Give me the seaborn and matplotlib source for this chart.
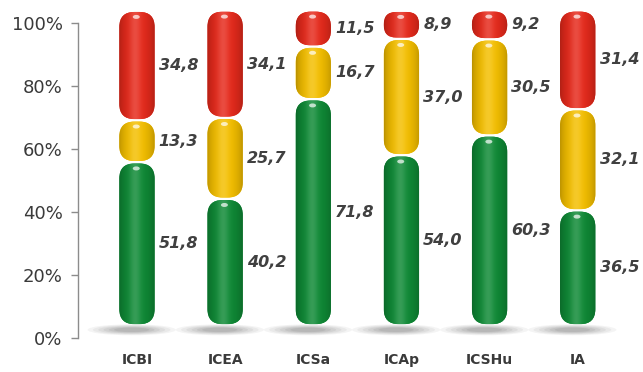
import numpy as np
import pandas as pd
import matplotlib
matplotlib.use("Agg")
import matplotlib.pyplot as plt
import seaborn as sns
from matplotlib.patches import FancyBboxPatch, Ellipse
from matplotlib.colors import to_rgb

# ---------------- data ----------------
categories = ["ICBI", "ICEA", "ICSa", "ICAp", "ICSHu", "IA"]
green_vals = [51.8, 40.2, 71.8, 54.0, 60.3, 36.5]
yellow_vals = [13.3, 25.7, 16.7, 37.0, 30.5, 32.1]
red_vals = [34.8, 34.1, 11.5, 8.9, 9.2, 31.4]
level_names = ["green", "yellow", "red"]
yticks = [0, 20, 40, 60, 80, 100]
ytick_labels = ["0%", "20%", "40%", "60%", "80%", "100%"]

# ---------------- style ----------------
level_colors = {"green": "#0f8a36", "yellow": "#f4bf00", "red": "#e62a1c"}
depth = 4.0          # 3D perspective lift of the cylinders (percent units)
gap_px = 2.5
radius_px = 15
text_color = "#3a3a3a"

sns.set_theme(style="white")
plt.rcParams["font.family"] = ["DejaVu Sans"]

W, H = 643, 372
fig = plt.figure(figsize=(W / 100, H / 100), dpi=100)
ymax = 110.0
ax_left, ax_bottom, ax_w = 78, 34, 557
px_y = 315 / 100.0
ax_h = px_y * ymax
ax = fig.add_axes([ax_left / W, ax_bottom / H, ax_w / W, ax_h / H])

# cumulative layers
series = [green_vals, yellow_vals, red_vals]
cum = np.zeros(len(categories))
layers = []
for name, vals in zip(level_names, series):
    bottom = cum.copy()
    cum = cum + np.array(vals)
    layers.append((name, bottom, cum.copy(), vals))

rows = []
for name, bottom, top, vals in layers:
    for c, b, t, v in zip(categories, bottom, top, vals):
        rows.append({"category": c, "level": name, "bottom": b, "top": t, "value": v})
df = pd.DataFrame(rows)

# draw with seaborn to get the categorical geometry
patch_info = []
for name in level_names:
    sub = df[df["level"] == name]
    n_before = len(ax.patches)
    sns.barplot(data=sub, x="category", y="top", order=categories, width=0.4,
                color=level_colors[name], ax=ax, errorbar=None)
    new = ax.patches[n_before:]
    for p, (_, r) in zip(new, sub.iterrows()):
        patch_info.append((p.get_x(), p.get_width(), r["bottom"], r["top"], r["value"], name))

for p in list(ax.patches):
    p.remove()

xlim = (-0.669, 5.65)
ax.set_xlim(*xlim)
ax.set_ylim(0, ymax)
px_x = ax_w / (xlim[1] - xlim[0])
aspect = px_x / px_y

# shadows
seen = set()
for x0, w, b, t, v, name in patch_info:
    if x0 in seen:
        continue
    seen.add(x0)
    cx = x0 + w / 2 - 0.06
    for k, a in zip(np.linspace(1.0, 0.4, 6), [0.07, 0.08, 0.09, 0.1, 0.12, 0.14]):
        ax.add_patch(Ellipse((cx, 2.6), width=1.0 * k, height=(11 / px_y) * k,
                             facecolor="#6a6a6a", edgecolor="none", alpha=a, zorder=1))

# cylinders
N = 80
t_arr = np.linspace(0, 1, N)
shade = 0.75 + 0.25 * np.sin(np.pi * t_arr) ** 0.6
hl = 0.16 * np.exp(-((t_arr - 0.45) / 0.16) ** 2)
for x0, w, b, t, v, name in patch_info:
    base = np.array(to_rgb(level_colors[name]))
    y0 = b + depth + gap_px / 2 / px_y
    y1 = t + depth - gap_px / 2 / px_y
    h = y1 - y0
    h_px = h * px_y
    r_px = min(radius_px, h_px / 2 - 0.5, w * px_x / 2)
    patch = FancyBboxPatch((x0, y0), w, h,
                           boxstyle=f"round,pad=0,rounding_size={r_px / px_x}",
                           mutation_aspect=aspect, facecolor=base,
                           edgecolor="none", zorder=2)
    ax.add_patch(patch)
    cols = base[None, :] * shade[:, None]
    cols = cols + (1 - cols) * hl[:, None]
    img = np.clip(cols, 0, 1)[None, :, :]
    im = ax.imshow(img, extent=(x0, x0 + w, y0, y1), aspect="auto",
                   interpolation="bilinear", zorder=3)
    im.set_clip_path(patch)
    # specular highlight near the top
    ax.add_patch(Ellipse((x0 + w * 0.48, y1 - min(r_px, 9) * 0.55 / px_y),
                         width=7 / px_x, height=4 / px_y, facecolor="white",
                         edgecolor="none", alpha=0.7, zorder=4))
    # value label
    mid = (b + t) / 2 + depth
    ax.annotate(f"{v:.1f}".replace(".", ","), xy=(x0 + w, mid), xytext=(3, 0),
                textcoords="offset points", ha="left", va="center",
                fontsize=11.5, style="italic", fontweight="bold",
                color="#404040", zorder=5)

ax.set_xlim(*xlim)
ax.set_ylim(0, ymax)

# axes styling
for s in ["top", "right", "bottom"]:
    ax.spines[s].set_visible(False)
ax.spines["left"].set_color("#8c8c8c")
ax.spines["left"].set_linewidth(1.0)
ax.spines["left"].set_bounds(0, 100)
ax.set_yticks(yticks)
ax.set_yticklabels(ytick_labels)
ax.tick_params(axis="y", left=True, length=5, width=1.0, color="#8c8c8c",
               labelsize=13, labelcolor=text_color, pad=6)
ax.set_xticks(range(len(categories)))
ax.set_xticklabels(categories)
ax.tick_params(axis="x", bottom=False, labelsize=10, labelcolor=text_color, pad=5)
for lab in ax.get_xticklabels():
    lab.set_fontweight("bold")
ax.set_xlabel("")
ax.set_ylabel("")
ax.grid(False)
ax.set_facecolor("white")
fig.patch.set_facecolor("white")

fig.savefig("out.png", dpi=100)
